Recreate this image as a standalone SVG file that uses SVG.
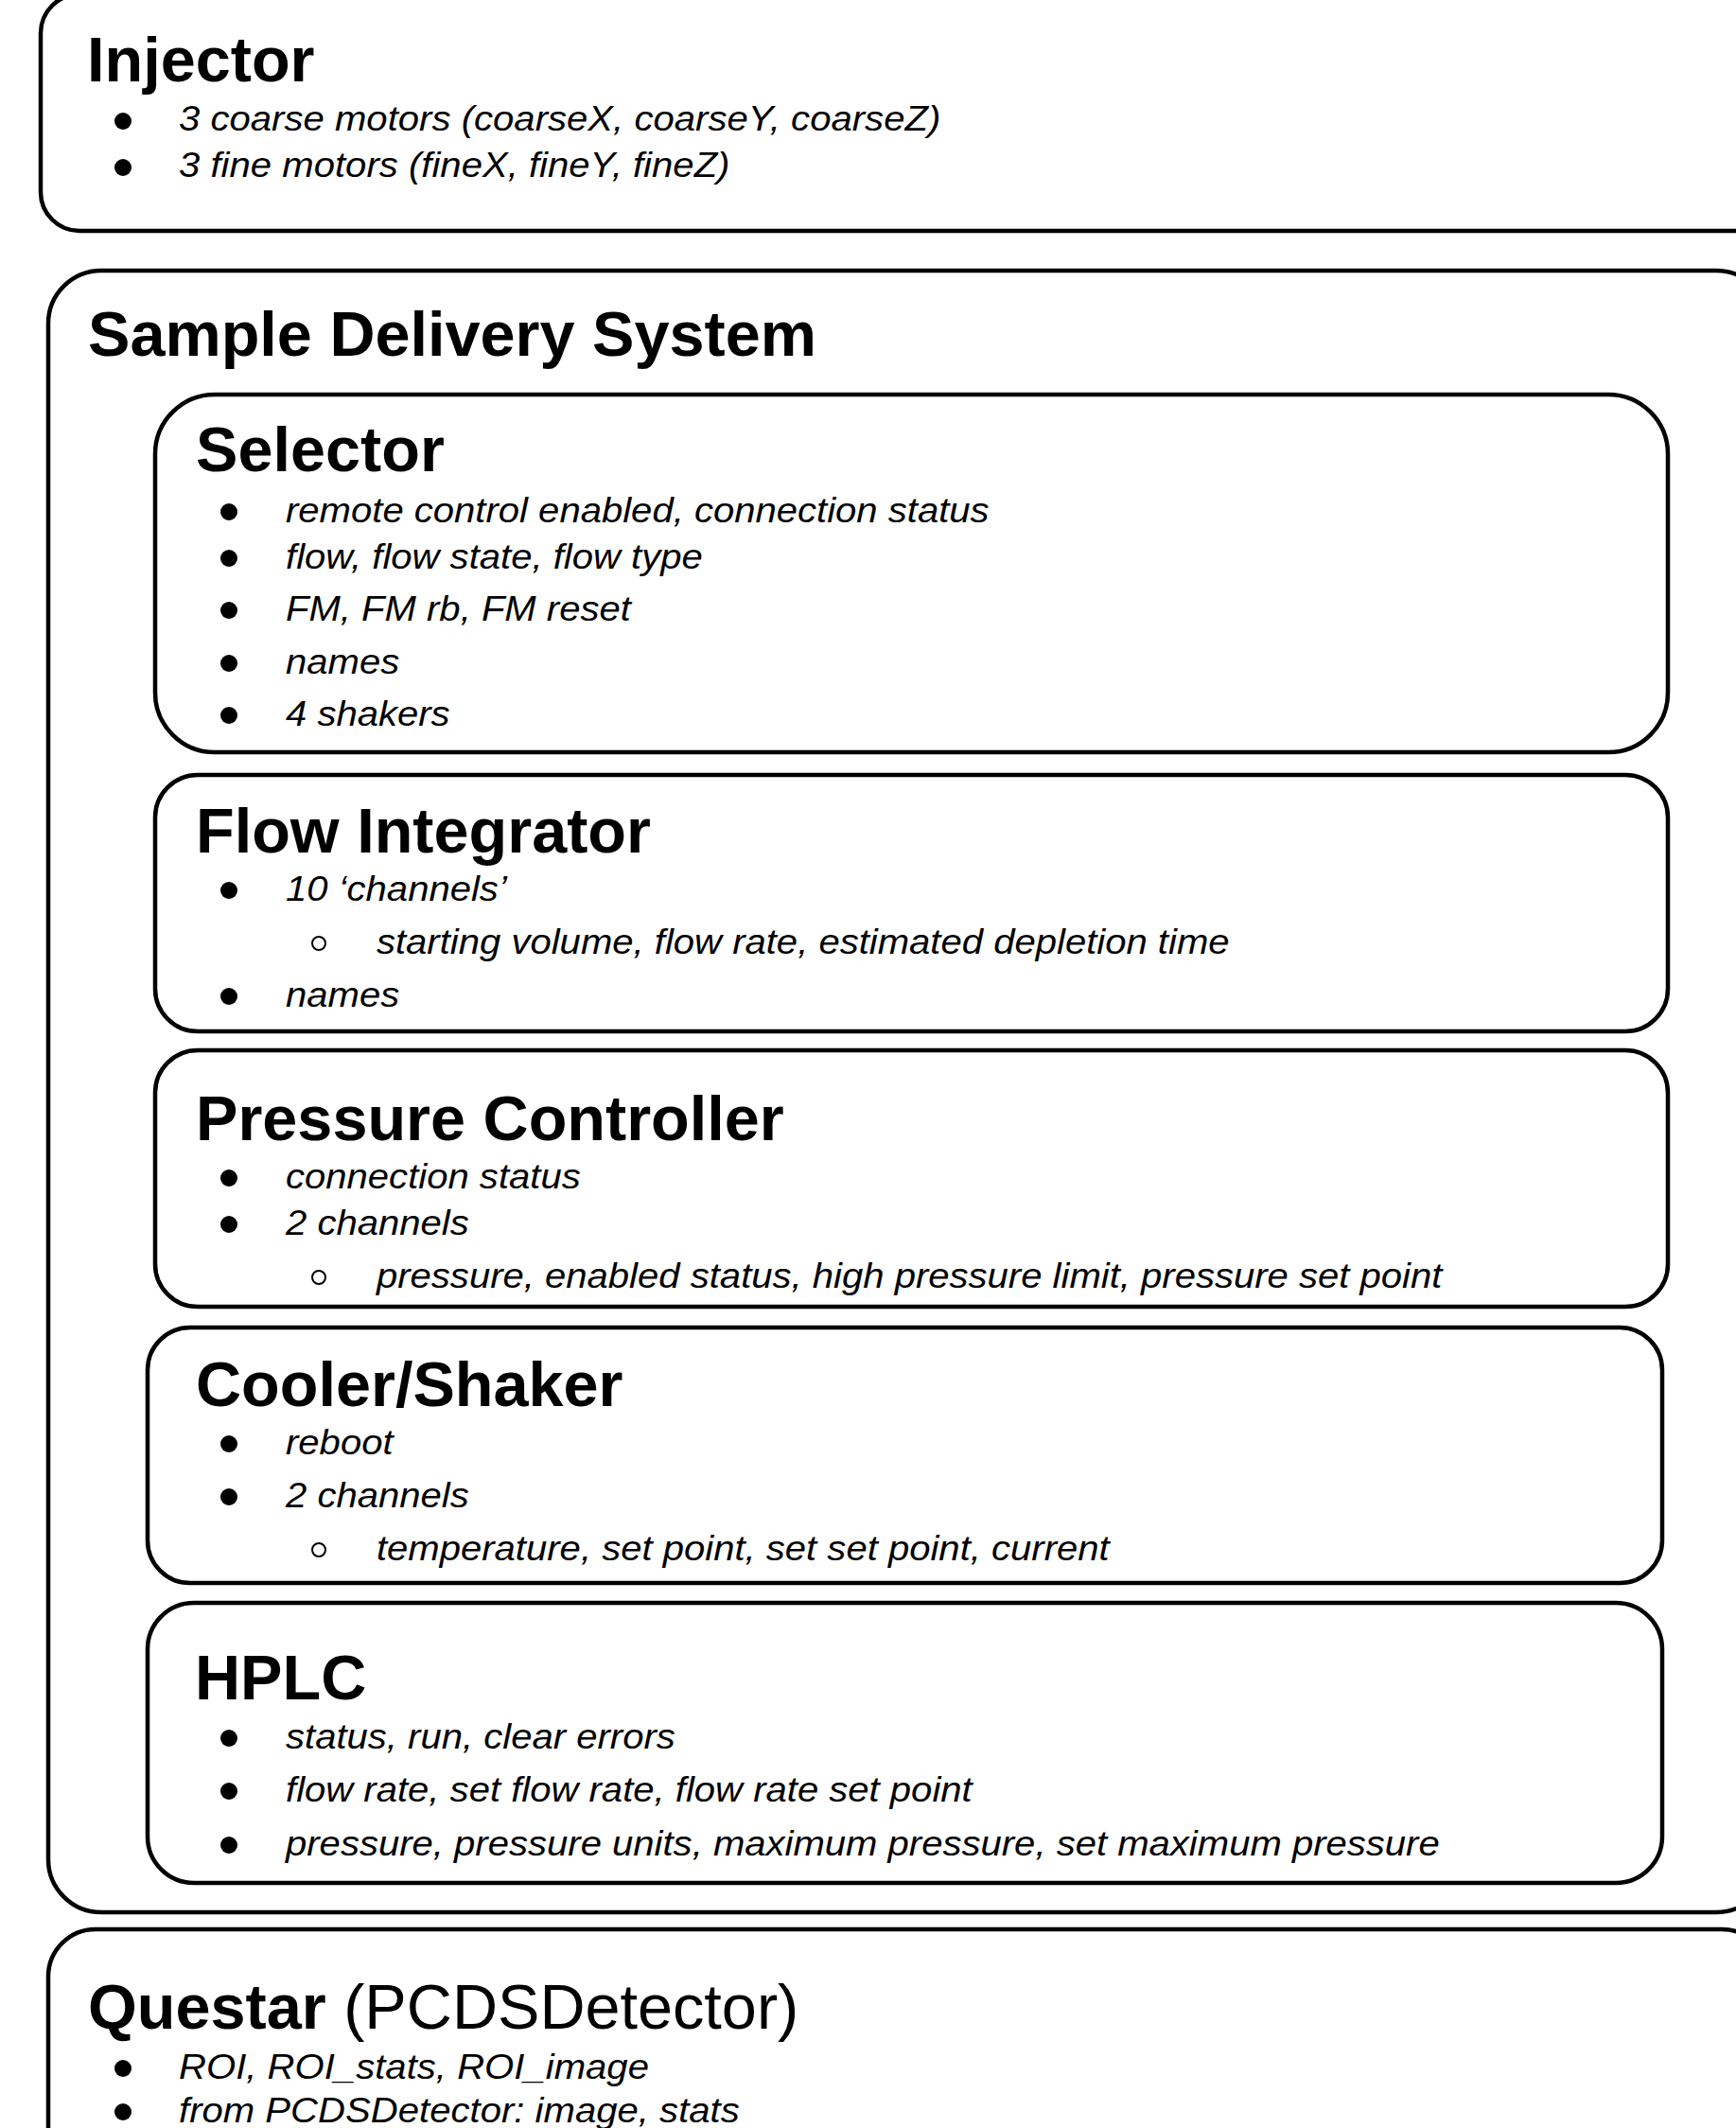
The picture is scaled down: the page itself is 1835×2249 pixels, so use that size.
<svg xmlns="http://www.w3.org/2000/svg" width="1835" height="2249" viewBox="0 0 1835 2249">
  <style>
    .box { fill: none; stroke: #000; stroke-width: 4.5; }
    .title { font-family: "Liberation Sans", Arial, sans-serif; font-weight: bold; font-size: 66.6px; fill: #000; }
    .reg { font-weight: normal; }
    .item { font-family: "Liberation Sans", Arial, sans-serif; font-style: italic; font-size: 37px; fill: #000; }
    .dot { fill: #000; }
    .ring { fill: none; stroke: #000; stroke-width: 2; }
  </style>
  <rect width="1835" height="2249" fill="#fff"/>

  <!-- Injector -->
  <g id="injector">
    <rect class="box" x="43" y="-6" width="1833" height="250" rx="41" ry="41"/>
    <text class="title" x="92" y="86">Injector</text>
    <circle class="dot" cx="130" cy="128" r="9"/>
    <circle class="dot" cx="130" cy="177" r="9"/>
    <g transform="translate(189 0) scale(1.084 1)">
      <text class="item" x="0" y="138">3 coarse motors (coarseX, coarseY, coarseZ)</text>
      <text class="item" x="0" y="187">3 fine motors (fineX, fineY, fineZ)</text>
    </g>
  </g>

  <!-- Sample Delivery System container -->
  <g id="sample-delivery-system">
    <rect class="box" x="51" y="286" width="1819" height="1735" rx="56" ry="56"/>
    <text class="title" x="93" y="376">Sample Delivery System</text>
  </g>

  <!-- Selector -->
  <g id="selector">
    <rect class="box" x="164" y="417" width="1599" height="378" rx="63" ry="63"/>
    <text class="title" x="207" y="498">Selector</text>
    <circle class="dot" cx="242" cy="541" r="9"/>
    <circle class="dot" cx="242" cy="590" r="9"/>
    <circle class="dot" cx="242" cy="645" r="9"/>
    <circle class="dot" cx="242" cy="701" r="9"/>
    <circle class="dot" cx="242" cy="756" r="9"/>
    <g transform="translate(302 0) scale(1.083 1)">
      <text class="item" x="0" y="552">remote control enabled, connection status</text>
      <text class="item" x="0" y="601">flow, flow state, flow type</text>
      <text class="item" x="0" y="656">FM, FM rb, FM reset</text>
      <text class="item" x="0" y="712">names</text>
      <text class="item" x="0" y="767">4 shakers</text>
    </g>
  </g>

  <!-- Flow Integrator -->
  <g id="flow-integrator">
    <rect class="box" x="164" y="819" width="1599" height="271" rx="45" ry="45"/>
    <text class="title" x="207" y="901">Flow Integrator</text>
    <circle class="dot" cx="242" cy="941" r="9"/>
    <circle class="ring" cx="337" cy="997" r="7"/>
    <circle class="dot" cx="242" cy="1053" r="9"/>
    <g transform="translate(302 0) scale(1.083 1)">
      <text class="item" x="0" y="952">10 ‘channels’</text>
      <text class="item" x="88.6" y="1008">starting volume, flow rate, estimated depletion time</text>
      <text class="item" x="0" y="1064">names</text>
    </g>
  </g>

  <!-- Pressure Controller -->
  <g id="pressure-controller">
    <rect class="box" x="164" y="1110" width="1599" height="271" rx="45" ry="45"/>
    <text class="title" x="207" y="1205">Pressure Controller</text>
    <circle class="dot" cx="242" cy="1245" r="9"/>
    <circle class="dot" cx="242" cy="1294" r="9"/>
    <circle class="ring" cx="337" cy="1350" r="7"/>
    <g transform="translate(302 0) scale(1.083 1)">
      <text class="item" x="0" y="1256">connection status</text>
      <text class="item" x="0" y="1305">2 channels</text>
      <text class="item" x="88.6" y="1361">pressure, enabled status, high pressure limit, pressure set point</text>
    </g>
  </g>

  <!-- Cooler/Shaker -->
  <g id="cooler-shaker">
    <rect class="box" x="156" y="1403" width="1601" height="270" rx="45" ry="45"/>
    <text class="title" x="207" y="1486">Cooler/Shaker</text>
    <circle class="dot" cx="242" cy="1526" r="9"/>
    <circle class="dot" cx="242" cy="1582" r="9"/>
    <circle class="ring" cx="337" cy="1638" r="7"/>
    <g transform="translate(302 0) scale(1.083 1)">
      <text class="item" x="0" y="1537">reboot</text>
      <text class="item" x="0" y="1593">2 channels</text>
      <text class="item" x="88.6" y="1649">temperature, set point, set set point, current</text>
    </g>
  </g>

  <!-- HPLC -->
  <g id="hplc">
    <rect class="box" x="156" y="1694" width="1601" height="296" rx="49" ry="49"/>
    <text class="title" x="206" y="1796">HPLC</text>
    <circle class="dot" cx="242" cy="1837" r="9"/>
    <circle class="dot" cx="242" cy="1893" r="9"/>
    <circle class="dot" cx="242" cy="1950" r="9"/>
    <g transform="translate(302 0) scale(1.083 1)">
      <text class="item" x="0" y="1848">status, run, clear errors</text>
      <text class="item" x="0" y="1904">flow rate, set flow rate, flow rate set point</text>
      <text class="item" x="0" y="1961">pressure, pressure units, maximum pressure, set maximum pressure</text>
    </g>
  </g>

  <!-- Questar -->
  <g id="questar">
    <rect class="box" x="51" y="2039" width="1819" height="300" rx="50" ry="50"/>
    <text class="title" x="93" y="2144">Questar<tspan class="reg"> (PCDSDetector)</tspan></text>
    <circle class="dot" cx="130" cy="2186" r="9"/>
    <circle class="dot" cx="130" cy="2232" r="9"/>
    <g transform="translate(189 0) scale(1.084 1)">
      <text class="item" x="0" y="2197">ROI, ROI_stats, ROI_image</text>
      <text class="item" x="0" y="2243">from PCDSDetector: image, stats</text>
    </g>
  </g>

  <!-- no connectors in this diagram -->
  <g id="connectors"/>
</svg>
